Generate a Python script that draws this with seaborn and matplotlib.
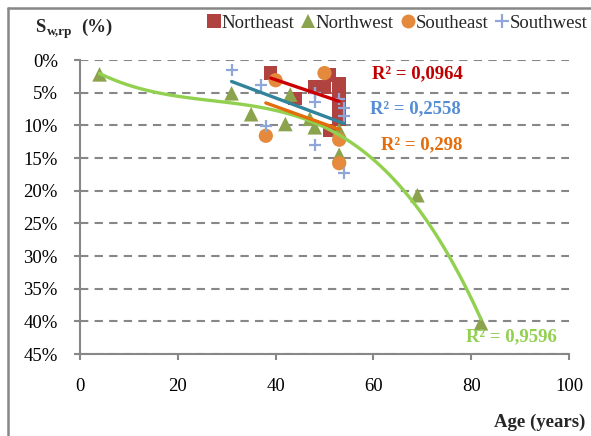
import numpy as np
import pandas as pd
import matplotlib
matplotlib.use("Agg")
import matplotlib.pyplot as plt
from matplotlib.lines import Line2D
import seaborn as sns

# ---- data (values in %, age in years) ----
ne_age = [39, 44, 48, 50, 51, 51, 53, 53, 53, 53, 53]
ne_val = [2.0, 5.9, 4.1, 4.1, 2.3, 10.8, 3.6, 5.0, 6.2, 7.6, 9.0]

nw_age = [4, 31, 35, 42, 43, 47, 48, 53, 53, 69, 82]
nw_val = [2.2, 5.1, 8.3, 9.8, 5.3, 9.0, 10.3, 10.7, 14.5, 20.7, 40.3]

se_age = [38, 40, 50, 53, 53]
se_val = [11.6, 3.1, 2.0, 12.2, 15.8]

sw_age = [31, 37, 38, 48, 48, 48, 48, 53, 54, 54, 54]
sw_val = [1.5, 3.9, 10.1, 5.1, 6.5, 13.0, 5.1, 6.0, 7.3, 8.5, 17.3]

series_names = ["Northeast", "Northwest", "Southeast", "Southwest"]
r2_labels = ["R² = 0,0964", "R² = 0,9596", "R² = 0,298", "R² = 0,2558"]
trend_orders = [1, 3, 1, 1]

y_ticks = [0, 5, 10, 15, 20, 25, 30, 35, 40, 45]
x_ticks = [0, 20, 40, 60, 80, 100]

# ---- style ----
sns.set_style("white")
SERIF = ["Liberation Serif", "DejaVu Serif"]
plt.rcParams["font.family"] = SERIF

W, H = 591, 436
fig = plt.figure(figsize=(W / 100, H / 100), dpi=100)
ax = fig.add_axes([80 / W, (H - 354) / H, 489 / W, 294 / H])

grey = "#878787"
marker_colors = ["#B0423F", "#8BA34C", "#E5893C", "#8EA7D8"]
markers = ["s", "^", "o", "+"]
sizes = [95, 110, 105, 75]
line_colors = ["#CC0000", "#92D050", "#E46C0A", "#31849B"]
text_colors = ["#C00000", "#92D050", "#E46C0A", "#558ED5"]
text_pos = [(372, 74), (466, 337), (381, 145), (370, 109)]

ages = [ne_age, nw_age, se_age, sw_age]
vals = [ne_val, nw_val, se_val, sw_val]

for i, name in enumerate(series_names):
    df = pd.DataFrame({"age": ages[i], "val": vals[i]})
    kw = dict(color=marker_colors[i], marker=markers[i], s=sizes[i], zorder=2)
    if markers[i] == "+":
        kw.update(linewidth=1.6)
    else:
        kw.update(edgecolor="none")
    sns.scatterplot(data=df, x="age", y="val", ax=ax, label=name, legend=False, **kw)

# trendlines: fitted from the data
for i in [0, 1, 2, 3]:
    df = pd.DataFrame({"age": ages[i], "val": vals[i]})
    sns.regplot(data=df, x="age", y="val", ax=ax, scatter=False, order=trend_orders[i],
                ci=None, truncate=True,
                line_kws=dict(color=line_colors[i], lw=2.4, zorder=3))

ax.set_xlim(0, 100)
ax.set_ylim(45, 0)
ax.set_xticks(x_ticks)
ax.set_yticks(y_ticks)
ax.set_yticklabels([f"{t}%" for t in y_ticks])
ax.set_xticklabels([str(t) for t in x_ticks])
ax.set_xlabel("")
ax.set_ylabel("")
ax.tick_params(axis="both", labelsize=13.5, colors=grey, labelcolor="black",
               length=4, width=1.5, direction="out", pad=12)
ax.tick_params(axis="x", pad=13)
ax.tick_params(axis="y", left=True)
ax.tick_params(axis="x", bottom=True)
for s in ["top", "right"]:
    ax.spines[s].set_visible(False)
for s in ["left", "bottom"]:
    ax.spines[s].set_color(grey)
    ax.spines[s].set_linewidth(1.5)
ax.yaxis.grid(True, color=grey, linestyle=(0, (4, 3)), linewidth=1.5)
ax.xaxis.grid(False)
ax.set_axisbelow(True)

# R² labels
for i in range(4):
    x, y = text_pos[i]
    fig.text(x / W, 1 - y / H, r2_labels[i], color=text_colors[i], fontsize=13.5,
             fontweight="bold", family="Liberation Serif", va="center", ha="left")

# axis titles
fig.text(35 / W, 1 - 27 / H, "S", fontsize=13.5, fontweight="bold",
         family="Liberation Serif", va="center", ha="left")
fig.text(47 / W, 1 - 32 / H, "w,rp", fontsize=9.5, fontweight="bold",
         family="Liberation Serif", va="center", ha="left")
fig.text(81 / W, 1 - 27 / H, "(%)", fontsize=13.5, fontweight="bold",
         family="Liberation Serif", va="center", ha="left")
fig.text(585 / W, 1 - 422 / H, "Age (years)", fontsize=13.5, fontweight="bold",
         family="Liberation Serif", va="center", ha="right")

# legend
handles = []
for i, name in enumerate(series_names):
    if markers[i] == "+":
        h = Line2D([], [], marker="+", color=marker_colors[i], linestyle="none",
                   markersize=10, markeredgewidth=1.6)
    else:
        h = Line2D([], [], marker=markers[i], color=marker_colors[i], linestyle="none",
                   markersize=10, markeredgewidth=0)
    handles.append(h)
fig.legend(handles, series_names, loc="center", bbox_to_anchor=(398 / W, 1 - 23 / H),
           ncol=4, frameon=False, fontsize=13.5, handlelength=0.6, handletextpad=0.1,
           columnspacing=0.45, borderpad=0, borderaxespad=0)

# outer chart border (top and left visible)
fig.add_artist(Line2D([8 / W, 8 / W], [0, 1 - 8 / H], color=grey, lw=1.8,
                      transform=fig.transFigure))
fig.add_artist(Line2D([8 / W, 1], [1 - 8 / H, 1 - 8 / H], color=grey, lw=1.8,
                      transform=fig.transFigure))

fig.savefig("out.png", dpi=100)
